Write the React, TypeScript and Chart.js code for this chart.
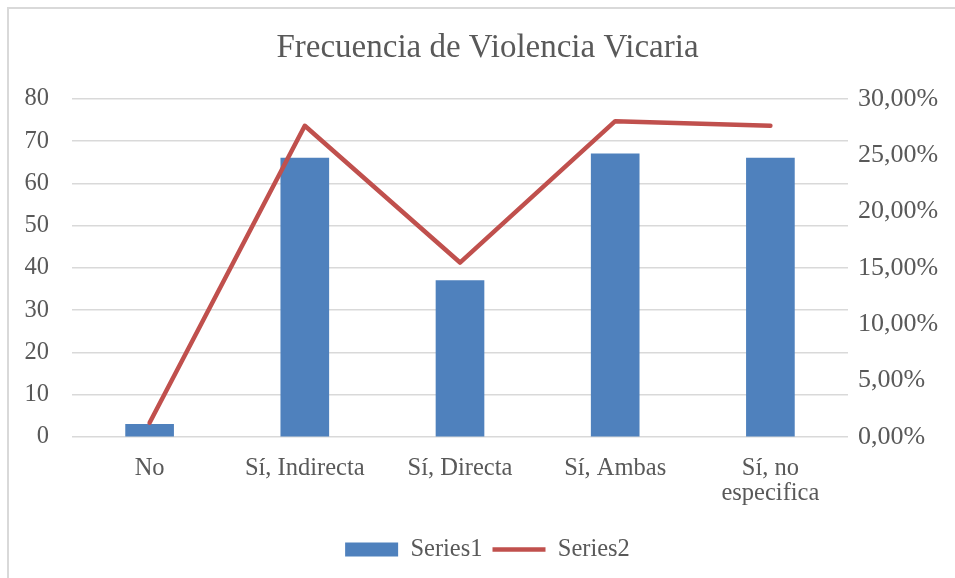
import React, { useEffect, useRef } from "react";
import { Chart, registerables } from "chart.js";

Chart.register(...registerables);

const TITLE = "Frecuencia de Violencia Vicaria";
const CATEGORIES: (string | string[])[] = ["No", "Sí, Indirecta", "Sí, Directa", "Sí, Ambas", ["Sí, no", "especifica"]];
const SERIES1_LABEL = "Series1";
const SERIES2_LABEL = "Series2";
const SERIES1 = [3, 66, 37, 67, 66];
const SERIES2 = [0.0126, 0.2762, 0.1548, 0.2803, 0.2762];
const LEFT_MAX = 80;
const LEFT_STEP = 10;
const RIGHT_MAX = 0.3;
const RIGHT_STEP = 0.05;

const BLUE = "#4F81BD";
const RED = "#C0504D";
const TEXT = "#595959";
const GRID = "#D9D9D9";
const FONT = "'Liberation Serif', serif";
const FS = 24.5;

export default function App() {
  const ref = useRef<HTMLCanvasElement | null>(null);

  useEffect(() => {
    if (!ref.current) return;
    const chart = new Chart(ref.current, {
      type: "bar",
      data: {
        labels: CATEGORIES as any,
        datasets: [
          {
            type: "bar",
            label: SERIES1_LABEL,
            data: SERIES1,
            backgroundColor: BLUE,
            borderWidth: 0,
            yAxisID: "y",
            order: 1,
            barThickness: 48,
          } as any,
          {
            type: "line",
            label: SERIES2_LABEL,
            data: SERIES2,
            borderColor: RED,
            backgroundColor: RED,
            borderWidth: 4.5,
            pointRadius: 0,
            tension: 0,
            borderJoinStyle: "round",
            borderCapStyle: "round",
            yAxisID: "y1",
            order: 0,
          } as any,
        ],
      },
      options: {
        animation: false,
        responsive: false,
        maintainAspectRatio: false,
        layout: { padding: { top: 29, bottom: 6.3, left: 0, right: 0 } },
        plugins: {
          title: {
            display: true,
            text: TITLE,
            color: TEXT,
            font: { family: FONT, size: 33, weight: "normal" as any, lineHeight: 1.2 },
            padding: { top: 0, bottom: 30.4 },
          },
          legend: {
            position: "bottom",
            labels: {
              color: TEXT,
              font: { family: FONT, size: FS, lineHeight: 1.2 },
              usePointStyle: true,
              pointStyleWidth: 53,
              boxHeight: 14,
              padding: 10,
              generateLabels: (c: any) => {
                const base = Chart.defaults.plugins.legend.labels.generateLabels(c);
                return base
                  .slice()
                  .sort((a: any, b: any) => a.datasetIndex - b.datasetIndex)
                  .map((l: any) => {
                    const isBar = l.datasetIndex === 0;
                    return {
                      ...l,
                      pointStyle: isBar ? "rect" : "line",
                      fillStyle: isBar ? BLUE : RED,
                      strokeStyle: isBar ? BLUE : RED,
                      lineWidth: isBar ? 0 : 4.5,
                      fontColor: TEXT,
                    };
                  });
              },
            },
          },
          tooltip: { enabled: false },
        },
        scales: {
          x: {
            grid: { display: false, drawTicks: false },
            border: { display: false },
            ticks: {
              color: TEXT,
              font: { family: FONT, size: FS, lineHeight: 1.05 },
              padding: 18.5,
              maxRotation: 0,
              autoSkip: false,
            },
            afterFit: (s: any) => {
              s.height = 90.3;
            },
          },
          y: {
            position: "left",
            min: 0,
            max: LEFT_MAX,
            ticks: {
              stepSize: LEFT_STEP,
              color: TEXT,
              font: { family: FONT, size: FS },
              padding: 23,
            },
            grid: { color: GRID, lineWidth: 1.5, drawTicks: false },
            border: { display: false },
            afterFit: (s: any) => {
              s.width = 72;
            },
          },
          y1: {
            position: "right",
            min: 0,
            max: RIGHT_MAX,
            ticks: {
              stepSize: RIGHT_STEP,
              color: TEXT,
              font: { family: FONT, size: 26 },
              padding: 10,
              callback: (v: any) => (Number(v) * 100).toFixed(2).replace(".", ",") + "%",
            },
            grid: { display: false, drawTicks: false },
            border: { display: false },
            afterFit: (s: any) => {
              s.width = 127;
            },
          },
        },
      },
    });
    return () => chart.destroy();
  }, []);

  return (
    <div style={{ position: "fixed", left: 0, top: 0, width: 955, height: 578, background: "#fff", overflow: "hidden" }}>
      <div
        style={{
          position: "absolute",
          left: 7,
          top: 7,
          width: 970,
          height: 590,
          border: `2px solid ${GRID}`,
          boxSizing: "border-box",
        }}
      />
      <canvas ref={ref} width={975} height={578} style={{ position: "absolute", left: 0, top: 0 }} />
    </div>
  );
}
